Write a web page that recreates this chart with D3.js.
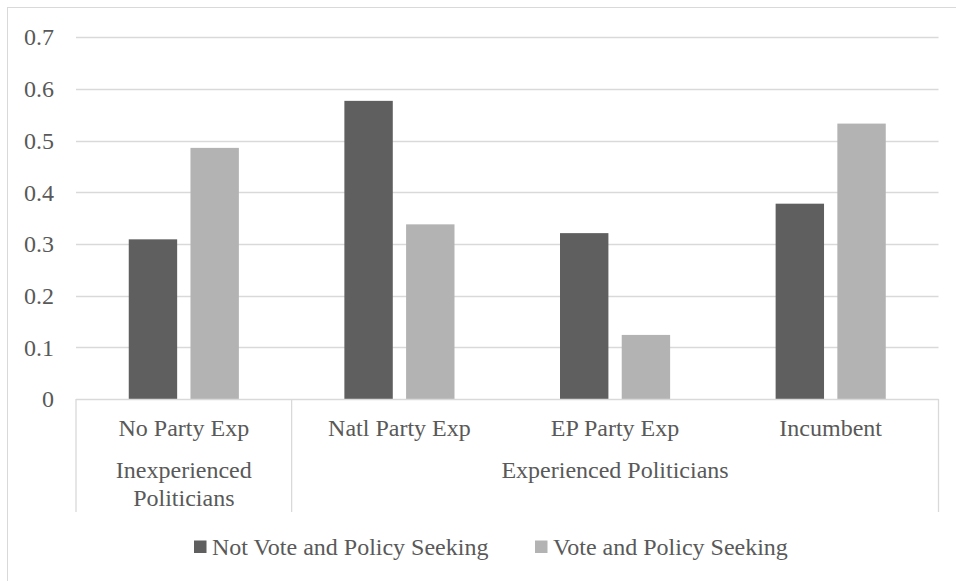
<!DOCTYPE html>
<html>
<head>
<meta charset="utf-8">
<script src="https://cdn.jsdelivr.net/npm/d3@7"></script>
<style>
  html, body { margin: 0; padding: 0; background: #fff; }
  svg { display: block; }
</style>
</head>
<body>
<svg id="chart" width="956" height="581"></svg>
<script>
const categories = ["No Party Exp", "Natl Party Exp", "EP Party Exp", "Incumbent"];
const groupLabels = [["Inexperienced", "Politicians"], ["Experienced Politicians"]];
const groupSpans = [[0, 1], [1, 4]];
const seriesNames = ["Not Vote and Policy Seeking", "Vote and Policy Seeking"];
const notVoteValues = [0.309, 0.577, 0.321, 0.378];
const voteValues = [0.486, 0.338, 0.124, 0.533];
const yTicks = [0, 0.1, 0.2, 0.3, 0.4, 0.5, 0.6, 0.7];
const colors = ["#5f5f5f", "#b3b3b3"];

(function () {
const FONT = "'Liberation Serif', 'Times New Roman', serif";
const TXT = "#595959";
const svg = d3.select("#chart");
const plotLeft = 76, plotRight = 938.5, plotTop = 37.3, plotBottom = 399;

// outer chart border (top and left visible)
svg.append("rect").attr("x", 7.5).attr("y", 7.5).attr("width", 1000).attr("height", 1000)
  .attr("fill", "none").attr("stroke", "#d9d9d9").attr("stroke-width", 1);

const y = d3.scaleLinear().domain([0, 0.7]).range([plotBottom, plotTop]);
const x = d3.scaleBand().domain(categories).range([plotLeft, plotRight]).paddingInner(0).paddingOuter(0);
const bw = x.bandwidth();
const barW = bw * 0.2245;
const gap = barW * 0.275;

// gridlines
svg.append("g").selectAll("line").data(yTicks.filter(d => d > 0)).join("line")
  .attr("x1", plotLeft).attr("x2", plotRight)
  .attr("y1", d => Math.round(y(d)) + 0.5).attr("y2", d => Math.round(y(d)) + 0.5)
  .attr("stroke", "#d9d9d9").attr("stroke-width", 1.3);

// y axis labels
const yAxis = d3.axisLeft(y).tickValues(yTicks).tickSize(0).tickPadding(22)
  .tickFormat(d => d === 0 ? "0" : d3.format(".1f")(d));
const yg = svg.append("g").attr("transform", `translate(${plotLeft},0)`).call(yAxis);
yg.select(".domain").remove();
yg.attr("font-family", null).attr("font-size", null);
yg.selectAll("text").style("font-size", "24px").style("fill", TXT).style("font-family", FONT);

// bars
const series = [notVoteValues, voteValues];
series.forEach((vals, si) => {
  svg.append("g").selectAll("rect").data(vals).join("rect")
    .attr("x", (d, i) => x(categories[i]) + bw / 2 + (si === 0 ? -gap / 2 - barW : gap / 2))
    .attr("width", barW)
    .attr("y", d => y(d))
    .attr("height", d => y(0) - y(d))
    .attr("fill", colors[si]);
});

// x axis line
svg.append("line").attr("x1", plotLeft).attr("x2", plotRight)
  .attr("y1", plotBottom + 0.5).attr("y2", plotBottom + 0.5)
  .attr("stroke", "#d9d9d9").attr("stroke-width", 1.3);

// vertical separators
const sepBottom = 512;
const sepXs = [plotLeft, x(categories[1]), plotRight];
svg.append("g").selectAll("line").data(sepXs).join("line")
  .attr("x1", d => d).attr("x2", d => d)
  .attr("y1", plotBottom).attr("y2", sepBottom)
  .attr("stroke", "#d9d9d9").attr("stroke-width", 1.3);

function styleText(sel) {
  return sel.style("font-family", FONT).style("font-size", "24px").style("fill", TXT);
}

// category labels
styleText(svg.append("g").selectAll("text").data(categories).join("text")
  .attr("x", d => x(d) + bw / 2).attr("y", 428)
  .attr("dy", "0.35em").attr("text-anchor", "middle")
  .text(d => d));

// group labels
groupLabels.forEach((lines, gi) => {
  const span = groupSpans[gi];
  const cx = (x(categories[span[0]]) + (span[1] < categories.length ? x(categories[span[1]]) : plotRight)) / 2;
  const startY = 470;
  lines.forEach((ln, li) => {
    styleText(svg.append("text").attr("x", cx).attr("y", startY + li * 28)
      .attr("dy", "0.35em").attr("text-anchor", "middle")
      .text(ln));
  });
});

// legend
const legendItems = [{ name: seriesNames[0], sx: 194, tx: 212 }, { name: seriesNames[1], sx: 535, tx: 553 }];
legendItems.forEach((it, i) => {
  svg.append("rect").attr("x", it.sx).attr("y", 540.5).attr("width", 12.5).attr("height", 12.5).attr("fill", colors[i]);
  styleText(svg.append("text").attr("x", it.tx).attr("y", 546.5).attr("dy", "0.35em").text(it.name));
});
})();
</script>
</body>
</html>
